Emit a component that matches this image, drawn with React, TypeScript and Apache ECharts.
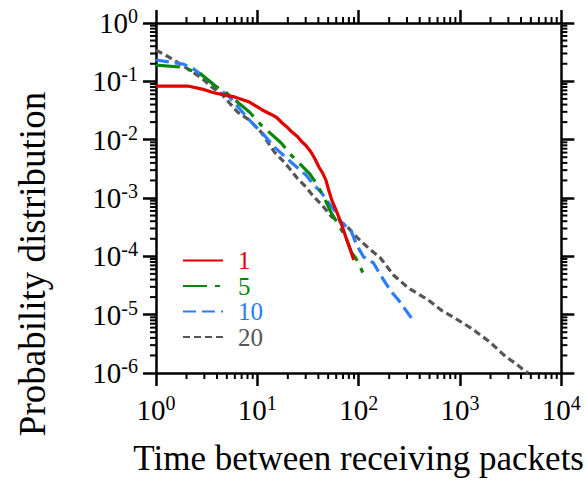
import React, { useEffect, useRef } from "react";
import * as echarts from "echarts";

// ---- data (x: time, y: probability) ----
const seriesNames = ["1", "5", "10", "20"];
const seriesColors = ["#e00000", "#0a870a", "#2a7dff", "#555555"];

const s1: [number, number][] = [
  [1, 0.083], [2.06, 0.083], [3.0, 0.072], [3.79, 0.063], [5.95, 0.054], [8.35, 0.0442],
  [11.2, 0.0323], [14.0, 0.0265], [15.5, 0.024], [17.6, 0.0193], [20, 0.0160], [22.0, 0.0135],
  [25, 0.0112], [27.6, 0.0091], [30, 0.0080], [33.8, 0.00615], [37, 0.0047], [40.5, 0.0034],
  [44, 0.0027], [47.5, 0.00203], [51, 0.0013], [54.3, 0.00092], [59, 0.00066], [63.7, 0.00047],
  [69, 0.00032], [74.6, 0.000214], [82, 0.000135], [89.4, 0.0000865],
];
const s5: [number, number][] = [
  [1, 0.19], [1.72, 0.176], [2.7, 0.139], [3.96, 0.08], [4.97, 0.063], [8.35, 0.0298],
  [10.9, 0.0178], [17.2, 0.00877], [21.5, 0.00546], [32.4, 0.00268], [37.9, 0.00181],
  [45.4, 0.00104], [53.1, 0.000575], [60.8, 0.000387], [74.6, 0.000214], [85.4, 0.000114],
  [93.5, 0.0000936], [107, 0.0000583], [117, 0.0000393],
];
const s10: [number, number][] = [
  [1, 0.232], [1.84, 0.198], [2.3, 0.169], [3.96, 0.08], [5.31, 0.0539], [8.35, 0.0217],
  [11.2, 0.013], [14.7, 0.00748], [22.0, 0.00398], [30.2, 0.00248], [36.2, 0.00167],
  [42.4, 0.00127], [50.8, 0.00082], [59.5, 0.000575], [66.6, 0.000387], [83.5, 0.000283],
  [95.6, 0.000156], [112, 0.0000973], [140, 0.0000769], [164, 0.0000479], [211, 0.0000245],
  [247, 0.0000178], [331, 0.0000088],
];
const s20: [number, number][] = [
  [1, 0.344], [1.28, 0.272], [1.61, 0.214], [2.15, 0.156], [2.82, 0.114], [3.54, 0.08],
  [4.44, 0.0606], [5.31, 0.0425], [6.37, 0.0298], [8.35, 0.0217], [10.9, 0.0135],
  [14.7, 0.00615], [17.6, 0.00448], [20.6, 0.00327], [24.7, 0.0022], [30.2, 0.00154],
  [36.2, 0.00104], [43.4, 0.000758], [54.3, 0.000472], [74.6, 0.000344], [95.6, 0.000214],
  [125, 0.000139], [164, 0.0000936], [220, 0.0000479], [309, 0.0000287], [486, 0.0000178],
  [651, 0.000012], [854, 0.0000091], [1282, 0.0000059], [1968, 0.0000034], [2825, 0.0000019],
  [3459, 0.0000015], [4338, 0.0000011], [4700, 0.000001],
];

// axis ranges / tick decades
const xMin = 1;
const xMax = 10000;
const yMin = 1e-6;
const yMax = 1;
const mantissas = [2, 3, 4, 5, 6, 7, 8, 9];
const xDecades = [1, 10, 100, 1000];
const yDecades = [1e-6, 1e-5, 1e-4, 1e-3, 1e-2, 1e-1];

const FONT = "'Liberation Serif', 'Times New Roman', Times, serif";

const minorData: number[][] = [];
xDecades.forEach((d) => mantissas.forEach((m) => minorData.push([m * d, 1, 0])));
yDecades.forEach((d) => mantissas.forEach((m) => minorData.push([1, m * d, 1])));

const expFormatter = (v: number) => {
  const e = Math.round(Math.log10(v));
  return `{b|10}{s|${e}}`;
};

const richLabel = {
  b: { fontFamily: FONT, fontSize: 29, color: "#000", lineHeight: 34 },
  s: { fontFamily: FONT, fontSize: 20, color: "#000", verticalAlign: "top", lineHeight: 34 },
};

export default function App() {
  const ref = useRef<HTMLDivElement>(null);
  useEffect(() => {
    if (!ref.current) return;
    const chart = echarts.init(ref.current, null, { renderer: "svg" });
    const axisLine = { show: true, lineStyle: { color: "#000", width: 2.5 } };
    const axisTick = { show: true, inside: false, length: 13, lineStyle: { color: "#000", width: 2.5 } };
    const dashes: any[] = ["solid", [24, 8, 5, 8], [13, 6], [7, 4]];
    const datas = [s1, s5, s10, s20];
    const option: any = {
      animation: false,
      backgroundColor: "#fff",
      textStyle: { fontFamily: FONT },
      grid: { left: 156, right: 23, top: 23, bottom: 109, containLabel: false },
      xAxis: [
        {
          type: "log", min: xMin, max: xMax, interval: 1, position: "bottom",
          axisLine, axisTick, splitLine: { show: false },
          axisLabel: { formatter: expFormatter, rich: richLabel, margin: 20, fontFamily: FONT },
          name: "Time between receiving packets", nameLocation: "middle", nameGap: 68,
          nameTextStyle: { fontFamily: FONT, fontSize: 35, color: "#000" },
        },
        {
          type: "log", min: xMin, max: xMax, interval: 1, position: "top",
          axisLine, axisTick, splitLine: { show: false }, axisLabel: { show: false },
        },
      ],
      yAxis: [
        {
          type: "log", min: yMin, max: yMax, interval: 1, position: "left",
          axisLine, axisTick, splitLine: { show: false },
          axisLabel: { formatter: expFormatter, rich: richLabel, margin: 18, fontFamily: FONT },
        },
        {
          type: "log", min: yMin, max: yMax, interval: 1, position: "right",
          axisLine, axisTick, splitLine: { show: false }, axisLabel: { show: false },
        },
      ],
      legend: {
        orient: "vertical", left: 177, top: 243, itemWidth: 40, itemHeight: 14, itemGap: 0.5,
        itemStyle: { opacity: 0, borderWidth: 0 },
        data: seriesNames.map((n, i) => ({
          name: n,
          itemStyle: { opacity: 0, borderWidth: 0 },
          textStyle: { color: seriesColors[i], fontFamily: FONT, fontSize: 25, padding: [0, 0, 0, 10] },
        })),
      },
      graphic: [
        {
          type: "text", x: 32, y: 264, rotation: Math.PI / 2,
          style: {
            text: "Probability distribution", fontFamily: FONT, fontSize: 37, fill: "#000",
            textAlign: "center", textVerticalAlign: "middle",
          },
        },
      ],
      series: [
        ...datas.map((d, i) => ({
          type: "line", name: seriesNames[i], data: d, symbol: "none", showSymbol: false,
          xAxisIndex: 0, yAxisIndex: 0,
          lineStyle: { color: seriesColors[i], width: 3.2, type: dashes[i] },
          itemStyle: { color: seriesColors[i] },
          z: 3 + (3 - i),
        })),
        {
          type: "custom", name: "minor", xAxisIndex: 0, yAxisIndex: 0, silent: true, clip: false,
          data: minorData,
          renderItem: (params: any, api: any) => {
            const cs = params.coordSys;
            const kind = api.value(2);
            const p = api.coord([api.value(0), api.value(1)]);
            const L = 6;
            const style = { stroke: "#000", lineWidth: 2 };
            if (kind === 0) {
              const x = p[0];
              return {
                type: "group",
                children: [
                  { type: "line", shape: { x1: x, y1: cs.y + cs.height, x2: x, y2: cs.y + cs.height + L }, style },
                  { type: "line", shape: { x1: x, y1: cs.y, x2: x, y2: cs.y - L }, style },
                ],
              };
            }
            const y = p[1];
            return {
              type: "group",
              children: [
                { type: "line", shape: { x1: cs.x, y1: y, x2: cs.x - L, y2: y }, style },
                { type: "line", shape: { x1: cs.x + cs.width, y1: y, x2: cs.x + cs.width + L, y2: y }, style },
              ],
            };
          },
        },
      ],
    };
    chart.setOption(option);
    return () => chart.dispose();
  }, []);
  return (
    <div
      ref={ref}
      style={{ position: "fixed", left: 0, top: 0, width: 587, height: 482, background: "#fff" }}
    />
  );
}
